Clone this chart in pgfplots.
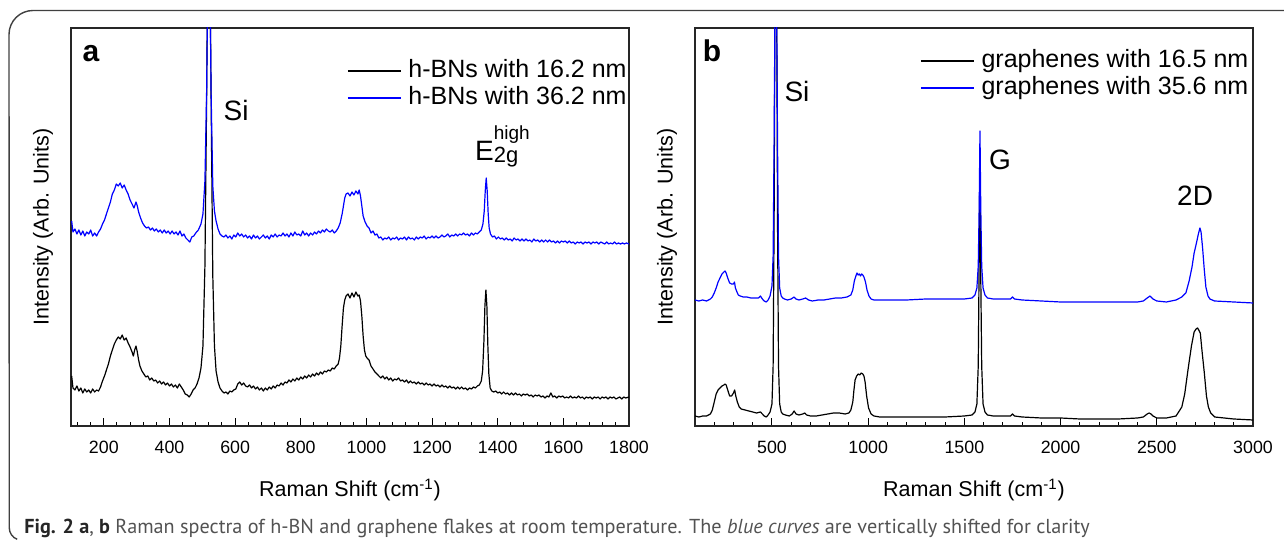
\documentclass[border=0pt]{standalone}
\usepackage{fontspec}
\setmainfont{Liberation Sans}
\newfontfamily\capfont{PT Sans}
\usepackage{pgfplots}
\pgfplotsset{compat=1.18}

\pgfplotsset{
  ramanaxis/.style={
    scale only axis, width=279pt, height=199pt,
    ymin=0, ymax=398, ytick=\empty,
    xtick pos=left, tick align=inside,
    major tick length=4pt, minor tick length=2.2pt,
    tick style={black, line width=0.5pt},
    axis line style={line width=0.6pt, black!85},
    every axis plot/.append style={line width=0.6pt, line join=round},
    /pgf/number format/assume math mode=true,
    /pgf/number format/1000 sep={},
    xticklabel style={font=\fontsize{8.9}{10}\selectfont, anchor=center, yshift=-10.5pt},
    xlabel={Raman Shift (cm\textsuperscript{-1})},
    ylabel={Intensity (Arb. Units)},
    xlabel style={font=\fontsize{10.75}{12}\selectfont, at={(axis description cs:0.5,-0.161)}, anchor=center},
    ylabel style={font=\fontsize{10.75}{12}\selectfont, at={(axis description cs:-0.05,0.5)}, anchor=center},
    legend cell align=left,
    legend image code/.code={\draw[#1] (0pt,0pt) -- (26.5pt,0pt);},
    legend style={draw=none, fill=none, inner sep=0pt, column sep=2.5pt,
      font=\fontsize{12.5}{13.5}\selectfont,
      nodes={inner sep=1pt, text height=9pt, text depth=2.5pt}},
  },
}
\tikzset{
  annot/.style={font=\fontsize{14}{16}\selectfont, inner sep=0pt},
  panel/.style={font=\fontsize{15}{17}\selectfont\bfseries, inner sep=0pt},
}

\begin{document}
\begin{tikzpicture}
\path[use as bounding box] (0,0) rectangle (642pt,272pt);

% ---------------- panel a ----------------
\begin{axis}[ramanaxis, at={(35.5pt,59pt)}, anchor=south west,
  xmin=100, xmax=1800, xtick={200,400,...,1800}, minor xtick={120,160,...,1800},
  legend style={at={(1,0.927)}, anchor=north east}]
\addplot[black] coordinates {
(102,50) (106,38) (112,36) (118,40) (124,35) (130,38) (136,33) (142,37) (148,34) (154,36) (160,33) (166,37) (172,34) (178,36) (184,35) (190,39) (196,45) (202,50) (208,56) (214,62) (220,70) (226,76) (232,82) (238,86) (244,89) (250,87) (256,91) (262,86) (268,88) (274,83) (280,79) (286,74) (290,70) (294,76) (298,80) (302,74) (306,66) (310,60) (316,55) (322,52) (328,49) (334,50) (340,46) (346,48) (352,45) (358,46) (364,43) (370,45) (376,42) (382,44) (388,41) (394,43) (400,40) (406,42) (412,39) (418,41) (424,38) (430,42) (436,39) (442,36) (448,32) (454,31) (460,29) (466,32) (472,36) (478,38) (484,42) (490,48) (496,58) (502,80) (508,160) (513,320) (517,480) (520,520) (523,480) (527,320) (532,150) (537,80) (542,55) (548,44) (554,38) (560,35) (566,33) (572,34) (578,32) (584,35) (590,34) (596,36) (602,37) (608,42) (614,44) (620,41) (626,43) (632,40) (638,39) (644,41) (650,38) (656,40) (662,37) (668,39) (674,36) (680,38) (686,35) (692,38) (698,36) (704,39) (710,37) (716,40) (722,38) (728,41) (734,40) (740,43) (746,41) (752,44) (758,43) (764,46) (770,44) (776,47) (782,45) (788,48) (794,46) (800,49) (806,47) (812,50) (818,48) (824,51) (830,49) (836,52) (842,50) (848,53) (854,51) (860,54) (866,52) (872,55) (878,54) (884,56) (890,55) (896,58) (902,57) (908,60) (914,62) (918,68) (922,80) (926,100) (930,118) (934,126) (938,130) (944,132) (950,128) (956,133) (962,129) (968,134) (974,130) (978,131) (982,125) (986,110) (990,90) (994,76) (998,70) (1002,68) (1008,66) (1014,60) (1020,57) (1026,54) (1032,52) (1038,50) (1044,48) (1050,50) (1056,47) (1062,49) (1068,46) (1074,48) (1080,45) (1086,47) (1092,46) (1098,48) (1104,45) (1110,46) (1116,44) (1122,46) (1128,43) (1134,45) (1140,43) (1146,44) (1152,42) (1158,44) (1164,42) (1170,43) (1176,41) (1182,43) (1188,41) (1194,42) (1200,40) (1206,42) (1212,40) (1218,41) (1224,39) (1230,41) (1236,39) (1242,40) (1248,38) (1254,40) (1260,38) (1266,39) (1272,37) (1278,39) (1284,37) (1290,39) (1296,37) (1302,38) (1308,36) (1314,38) (1320,37) (1326,39) (1332,38) (1338,40) (1344,41) (1350,45) (1354,55) (1358,85) (1361,120) (1364,136) (1367,120) (1370,80) (1373,52) (1377,38) (1382,35) (1388,34) (1394,35) (1400,33) (1406,34) (1412,32) (1418,34) (1424,32) (1430,33) (1436,31) (1442,33) (1448,31) (1454,33) (1460,31) (1466,32) (1472,30) (1478,32) (1484,31) (1490,32) (1496,30) (1502,31) (1508,29) (1514,31) (1520,30) (1526,31) (1532,29) (1538,30) (1544,28) (1550,30) (1556,29) (1562,33) (1568,29) (1574,30) (1580,28) (1586,30) (1592,29) (1598,30) (1604,28) (1610,29) (1616,28) (1622,30) (1628,28) (1634,29) (1640,28) (1646,30) (1652,28) (1658,29) (1664,27) (1670,29) (1676,28) (1682,29) (1688,27) (1694,29) (1700,28) (1706,29) (1712,27) (1718,29) (1724,28) (1730,29) (1736,27) (1742,29) (1748,28) (1754,29) (1760,27) (1766,28) (1772,29) (1778,27) (1784,29) (1790,28) (1800,29)
};
\addlegendentry{h-BNs with 16.2 nm}
\addplot[blue] coordinates {
(102,205) (106,194) (112,197) (118,192) (124,196) (130,191) (136,195) (142,190) (148,194) (154,192) (160,196) (166,190) (172,193) (178,190) (184,194) (190,197) (196,202) (202,206) (208,212) (214,218) (220,224) (226,232) (232,236) (238,242) (244,240) (250,243) (256,238) (262,241) (268,236) (274,232) (280,226) (286,222) (292,218) (298,224) (302,220) (306,214) (312,208) (318,203) (324,200) (330,198) (336,199) (342,196) (348,198) (354,195) (360,197) (366,194) (372,196) (378,193) (384,196) (390,193) (396,195) (402,192) (408,195) (414,192) (420,194) (426,191) (432,195) (438,190) (444,192) (450,188) (456,186) (462,184) (468,189) (474,190) (480,193) (488,196) (496,202) (502,212) (508,245) (513,330) (517,450) (520,520) (523,450) (527,330) (532,240) (537,215) (542,205) (548,197) (554,192) (560,190) (566,189) (572,191) (578,188) (584,190) (590,187) (596,191) (602,189) (608,193) (614,190) (620,192) (626,189) (632,191) (638,188) (644,190) (650,187) (656,191) (662,188) (668,190) (674,187) (680,189) (686,191) (692,188) (698,190) (704,187) (710,191) (716,189) (722,192) (728,189) (734,191) (740,190) (746,193) (752,190) (758,192) (764,189) (770,193) (776,190) (782,194) (788,191) (794,192) (800,190) (806,195) (812,191) (818,193) (824,190) (830,193) (836,191) (842,194) (848,192) (854,195) (860,193) (866,196) (872,194) (878,197) (884,195) (890,194) (896,196) (902,193) (908,195) (914,198) (920,203) (926,212) (930,220) (934,228) (938,232) (944,233) (950,230) (956,234) (962,231) (968,235) (974,232) (978,236) (982,230) (986,220) (990,210) (996,204) (1002,200) (1008,198) (1014,193) (1020,195) (1026,191) (1032,192) (1038,188) (1044,189) (1050,186) (1056,188) (1062,187) (1068,189) (1074,186) (1080,188) (1086,187) (1092,189) (1098,186) (1104,188) (1110,187) (1116,189) (1122,186) (1128,189) (1134,187) (1140,188) (1146,186) (1152,189) (1158,187) (1164,189) (1170,188) (1176,190) (1182,187) (1188,189) (1194,188) (1200,190) (1206,188) (1212,190) (1218,188) (1224,189) (1230,191) (1236,189) (1242,190) (1248,192) (1254,189) (1260,191) (1266,190) (1272,192) (1278,190) (1284,192) (1290,191) (1296,193) (1302,191) (1308,192) (1314,190) (1320,193) (1326,191) (1332,193) (1338,192) (1344,194) (1350,196) (1355,202) (1359,215) (1362,235) (1365,248) (1368,235) (1371,212) (1374,198) (1378,192) (1384,189) (1390,190) (1396,187) (1402,189) (1408,187) (1414,188) (1420,186) (1426,188) (1432,186) (1438,187) (1444,185) (1450,188) (1456,186) (1462,187) (1468,185) (1474,187) (1480,185) (1486,187) (1492,185) (1498,186) (1504,184) (1510,187) (1516,185) (1522,186) (1528,184) (1534,186) (1540,184) (1546,186) (1552,184) (1558,186) (1564,184) (1570,185) (1576,183) (1582,185) (1588,183) (1594,185) (1600,184) (1606,185) (1612,183) (1618,185) (1624,183) (1630,184) (1636,182) (1642,184) (1648,183) (1654,184) (1660,182) (1666,184) (1672,183) (1678,184) (1684,182) (1690,184) (1696,183) (1702,184) (1708,182) (1714,184) (1720,183) (1726,182) (1732,184) (1738,182) (1744,183) (1750,182) (1756,184) (1762,182) (1768,183) (1774,182) (1780,183) (1786,182) (1792,183) (1800,182)
};
\addlegendentry{h-BNs with 36.2 nm}
\node[panel] at (rel axis cs:0.036,0.936) {a};
\node[annot] at (axis cs:603,315) {Si};
\node[inner sep=0pt, anchor=base west] at (axis cs:1330,265)
  {\fontsize{14}{16}\selectfont E\rlap{\raisebox{-1pt}{\fontsize{11}{12}\selectfont 2g}}\raisebox{10.5pt}{\fontsize{9.5}{10}\selectfont high}};
\end{axis}

% ---------------- panel b ----------------
\begin{axis}[ramanaxis, at={(347.5pt,59pt)}, anchor=south west,
  xmin=100, xmax=3000, xtick={500,1000,...,3000}, minor xtick={200,300,...,2900},
  legend style={at={(0.996,0.952)}, anchor=north east}]
\addplot[black] coordinates {
(100,10) (120,9) (140,10) (160,10) (180,12) (190,16) (200,24) (210,32) (220,36) (230,38) (240,40) (250,41) (256,42) (262,41) (270,36) (280,30) (290,30) (300,33) (306,36) (312,30) (320,24) (330,19) (340,17) (360,16) (380,15) (400,14) (420,13) (440,14) (450,12) (460,10) (470,9) (480,11) (490,14) (500,22) (506,60) (511,200) (515,400) (520,520) (525,400) (529,200) (534,60) (540,22) (548,14) (556,12) (570,11) (590,10) (605,12) (615,15) (625,12) (640,11) (660,12) (670,13) (680,11) (700,10) (730,10) (760,11) (790,12) (820,13) (850,13) (880,12) (900,13) (910,16) (920,24) (926,36) (932,46) (940,50) (948,52) (956,51) (964,53) (972,52) (978,50) (984,44) (992,30) (1002,18) (1015,12) (1030,10) (1060,9) (1100,9) (1200,9) (1300,9) (1400,9) (1500,10) (1540,11) (1555,14) (1565,22) (1572,60) (1577,170) (1580,259) (1584,170) (1590,60) (1597,22) (1607,14) (1620,11) (1650,10) (1700,10) (1740,10) (1750,12) (1760,10) (1800,9) (1900,8) (2000,8) (2100,7) (2200,7) (2300,7) (2400,8) (2430,9) (2450,12) (2460,13) (2470,12) (2480,10) (2500,8) (2550,8) (2600,10) (2630,19) (2645,32) (2662,56) (2680,80) (2694,94) (2704,97) (2712,98) (2718,96) (2726,93) (2735,75) (2747,53) (2758,30) (2768,19) (2780,13) (2801,9) (2900,7) (3000,6)
};
\addlegendentry{graphenes with 16.5 nm}
\addplot[blue] coordinates {
(100,126) (120,125) (140,126) (160,125) (180,127) (190,129) (200,133) (210,138) (220,144) (230,148) (240,152) (250,154) (256,155) (262,153) (270,148) (280,143) (290,142) (300,142) (305,144) (310,138) (318,134) (325,131) (335,130) (350,129) (370,129) (390,128) (410,128) (430,128) (440,130) (450,127) (460,125) (470,124) (480,126) (490,130) (500,140) (506,170) (511,280) (515,400) (520,520) (525,400) (529,280) (534,170) (540,138) (548,130) (556,128) (565,127) (580,126) (600,127) (615,129) (625,127) (640,126) (660,127) (675,128) (690,126) (710,125) (740,126) (770,126) (800,127) (830,128) (860,128) (890,129) (910,131) (920,136) (928,145) (936,150) (942,153) (948,151) (954,152) (960,150) (966,152) (972,151) (978,149) (986,144) (994,136) (1004,130) (1015,127) (1030,126) (1100,126) (1200,126) (1300,127) (1400,127) (1500,127) (1540,128) (1555,131) (1565,138) (1572,160) (1577,220) (1581,295) (1585,220) (1590,160) (1597,138) (1607,131) (1620,128) (1650,127) (1700,127) (1740,127) (1750,129) (1760,127) (1800,126) (1900,125) (2000,124) (2100,124) (2200,124) (2300,124) (2400,124) (2430,125) (2450,128) (2465,130) (2480,127) (2500,125) (2550,124) (2600,126) (2630,129) (2651,133) (2668,145) (2683,159) (2694,173) (2706,183) (2716,192) (2724,198) (2730,194) (2738,178) (2746,158) (2755,139) (2766,130) (2776,127) (2800,125) (2900,124) (3000,123)
};
\addlegendentry{graphenes with 35.6 nm}
\node[panel] at (rel axis cs:0.0305,0.942) {b};
\node[annot] at (axis cs:630,334) {Si};
\node[annot] at (axis cs:1685,266) {G};
\node[annot] at (axis cs:2699,230) {2D};
\end{axis}

% frame and caption
\draw[line width=0.7pt, black!75] (642pt,266.75pt) -- (16.5pt,266.75pt)
  arc[start angle=90, end angle=180, radius=12pt] -- (4.65pt,8pt)
  arc[start angle=180, end angle=250, radius=6pt];
\node[anchor=base west, inner sep=0pt, text=black!68] at (12pt,5.3pt)
  {\capfont\fontsize{10.1}{12}\selectfont\textcolor{black!85}{\textbf{Fig. 2 a}}, \textcolor{black!85}{\textbf{b}} Raman spectra of h-BN and graphene flakes at room temperature. The \textit{blue curves} are vertically shifted for clarity};
\end{tikzpicture}
\end{document}
